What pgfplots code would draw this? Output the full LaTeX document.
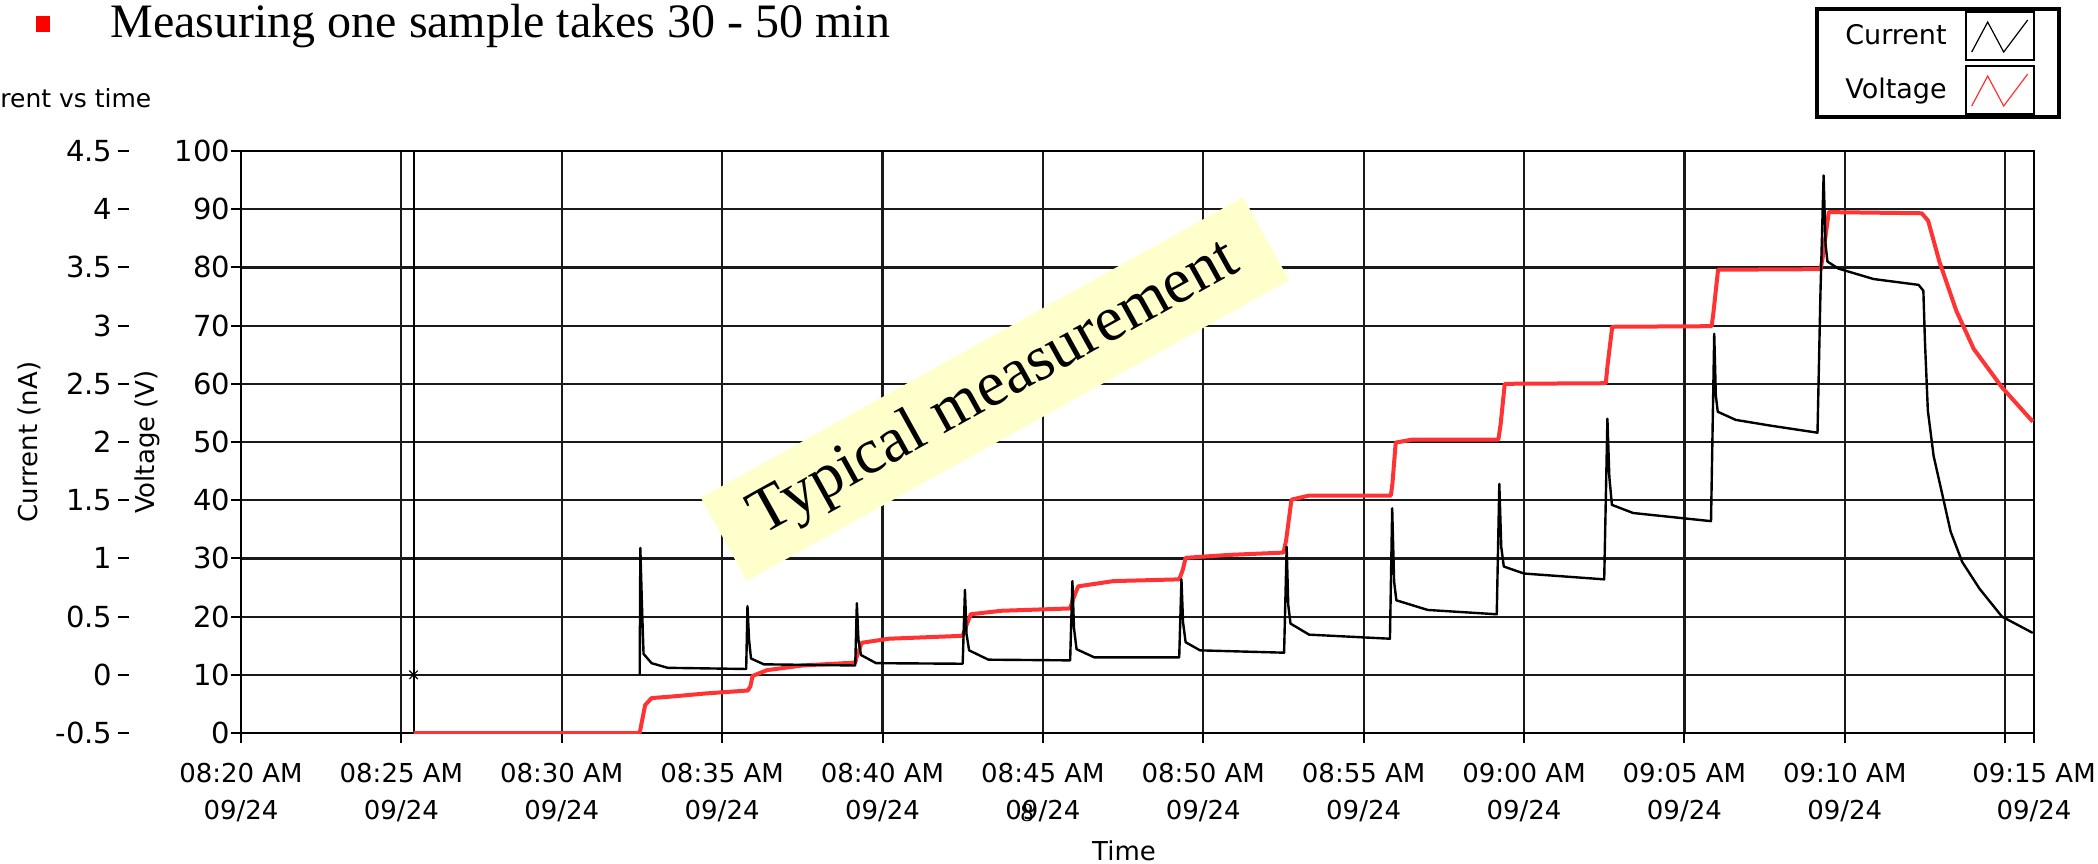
\documentclass[border=0pt]{standalone}
\usepackage{pgfplots}
\pgfplotsset{compat=1.18}
\usepackage{fontspec}
\setmainfont{DejaVu Sans}
\newfontfamily\tnr{Liberation Serif}
\definecolor{vred}{RGB}{255,51,51}
\definecolor{noteyellow}{RGB}{255,255,204}

\pgfplotstableread{
t V
5.38 0
12.43 0
12.5 2
12.6 4.8
12.8 6.0
13.5 6.3
14.5 6.8
15.8 7.3
15.88 8
15.95 9.8
16.4 10.8
17.5 11.6
19.15 12.1
19.19 13
19.35 15.5
20.2 16.2
22.5 16.7
22.58 18
22.75 20.4
23.7 21
25.85 21.4
25.94 23
26.1 25.2
27.2 26.1
29.25 26.4
29.36 28
29.45 30.1
30.8 30.6
32.5 31.0
32.58 33
32.75 40.1
33.3 40.8
35.85 40.8
35.9 43
36.0 49.9
36.5 50.4
39.2 50.4
39.27 53
39.4 60
42.55 60.1
42.6 63
42.75 69.8
45.85 69.9
45.9 72
46.05 79.6
49.25 79.7
49.32 82
49.5 89.5
52.4 89.3
52.6 88
52.95 81
53.48 72.5
54.02 66
54.9 59.4
55.86 53.5
}\voltagedata

\pgfplotstableread{
t I
12.43 0
12.45 1.09
12.5 0.6
12.55 0.18
12.8 0.1
13.3 0.06
15.75 0.05
15.79 0.59
15.84 0.3
15.9 0.14
16.3 0.09
19.15 0.08
19.2 0.615
19.25 0.3
19.33 0.17
19.8 0.1
22.5 0.095
22.57 0.73
22.62 0.35
22.7 0.21
23.3 0.13
25.85 0.124
25.92 0.805
25.97 0.4
26.05 0.22
26.6 0.15
29.25 0.15
29.32 0.82
29.37 0.45
29.45 0.28
29.9 0.21
32.52 0.19
32.6 1.1
32.65 0.6
32.72 0.44
33.3 0.345
35.82 0.31
35.89 1.43
35.95 0.8
36.02 0.64
37.0 0.557
39.15 0.52
39.23 1.64
39.29 1.1
39.37 0.93
40.0 0.87
42.5 0.82
42.6 2.2
42.66 1.7
42.74 1.46
43.4 1.39
45.83 1.32
45.93 2.93
45.98 2.4
46.04 2.26
46.6 2.19
47.7 2.14
49.15 2.08
49.24 3.26
49.34 4.29
49.4 3.7
49.46 3.55
49.8 3.49
50.9 3.40
52.3 3.35
52.45 3.3
52.5 2.86
52.59 2.27
52.77 1.88
53.04 1.55
53.3 1.23
53.66 0.97
54.2 0.74
54.9 0.5
55.86 0.36
}\currentdata

\begin{document}
\begin{tikzpicture}[x=1pt,y=1pt]
% title line
\fill[red] (18,415.5) rectangle (25,423.5);
\node[anchor=base west, inner sep=0, font=\tnr\fontsize{24}{28}\selectfont] at (55,412.75) {Measuring one sample takes 30 - 50 min};
\node[anchor=base west, inner sep=0, font=\fontsize{12.5}{15}\selectfont] at (0,377.5) {rent vs time};

% voltage axis with grid
\begin{axis}[
  at={(120.5pt,65pt)}, anchor=south west,
  scale only axis, width=896.5pt, height=291pt,
  xmin=0, xmax=55.9, ymin=0, ymax=100,
  /pgf/number format/assume math mode=true,
  grid=major,
  major grid style={black!90, line width=1.1pt},
  axis line style={black, line width=1.3pt},
  tick align=outside, major tick length=5pt,
  tick style={black, line width=1pt},
  xtick pos=left, ytick pos=left,
  xtick={0,5,10,15,20,25,30,35,40,45,50,55,55.9},
  xticklabels={{08:20 AM\\09/24},{08:25 AM\\09/24},{08:30 AM\\09/24},{08:35 AM\\09/24},{08:40 AM\\09/24},{08:45 AM\\09/24},{08:50 AM\\09/24},{08:55 AM\\09/24},{09:00 AM\\09/24},{09:05 AM\\09/24},{09:10 AM\\09/24},{},{09:15 AM\\09/24}},
  xticklabel style={align=center, font=\fontsize{13}{18.5}\selectfont, yshift=-6.5pt},
  ytick={0,10,20,30,40,50,60,70,80,90,100},
  yticklabel style={font=\fontsize{14.5}{16}\selectfont, xshift=3pt},
  xlabel={Time},
  xlabel style={font=\fontsize{13}{15}\selectfont, at={(axis description cs:0.4925,-0.2027)}, anchor=center},
  ylabel={Voltage (V)},
  ylabel style={font=\fontsize{13}{15}\selectfont, at={(axis description cs:-0.0525,0.5)}, anchor=center},
]
\addplot[black, line width=1pt, forget plot] coordinates {(5.38,0) (5.38,100)};
\addplot[vred, line width=2pt, line join=round, forget plot] table[x=t, y=V] {\voltagedata};
\end{axis}

% current axis
\begin{axis}[
  at={(120.5pt,65pt)}, anchor=south west,
  scale only axis, width=896.5pt, height=291pt,
  xmin=0, xmax=55.9, ymin=-0.5, ymax=4.5,
  /pgf/number format/assume math mode=true,
  hide x axis,
  axis line style={draw=none},
  major tick length=0pt,
  ytick pos=left,
  ytick={-0.5,0,0.5,1,1.5,2,2.5,3,3.5,4,4.5},
  yticklabel={\pgfmathprintnumber{\tick}\hspace{3pt}\rule[0.33em]{5.5pt}{1pt}},
  yticklabel style={font=\fontsize{14.5}{16}\selectfont, xshift=-52.4pt},
  ylabel={Current (nA)},
  ylabel style={font=\fontsize{13}{15}\selectfont, at={(axis description cs:-0.118,0.5)}, anchor=center},
  legend plot pos=right,
  legend cell align=right,
  legend image code/.code={
    \draw[black, line width=1pt, solid] (0pt,-12pt) rectangle (34pt,12pt);
    \draw[line width=0.6pt] (3pt,-8pt) -- (11pt,7pt) -- (19pt,-8pt) -- (31pt,8pt);
  },
  legend style={at={(axis description cs:0.878,1.2474)}, anchor=north west,
    draw=black, line width=2pt, font=\fontsize{13.5}{16}\selectfont,
    inner xsep=12pt, inner ysep=1pt, row sep=2pt,
    /tikz/every odd column/.append style={column sep=7pt}},
]
\addlegendimage{black}
\addlegendentry{Current}
\addlegendimage{vred}
\addlegendentry{Voltage}
\addplot[black, line width=1.2pt, line join=round, forget plot] table[x=t, y=I] {\currentdata};
\addplot[black, only marks, mark=x, mark size=3pt, line width=0.6pt, forget plot] coordinates {(5.38,0)};
\end{axis}

% annotation
\node[fill=noteyellow, rotate=29, minimum width=310pt, minimum height=47.5pt, inner sep=0, font=\tnr\fontsize{32}{40}\selectfont] at (497.5,237) {Typical measurement};
\node[inner sep=0, font=\tnr\fontsize{13}{15}\selectfont] at (513.5,25) {8};

\pgfresetboundingbox
\useasboundingbox (0,0) rectangle (1049,431.5);
\end{tikzpicture}
\end{document}
